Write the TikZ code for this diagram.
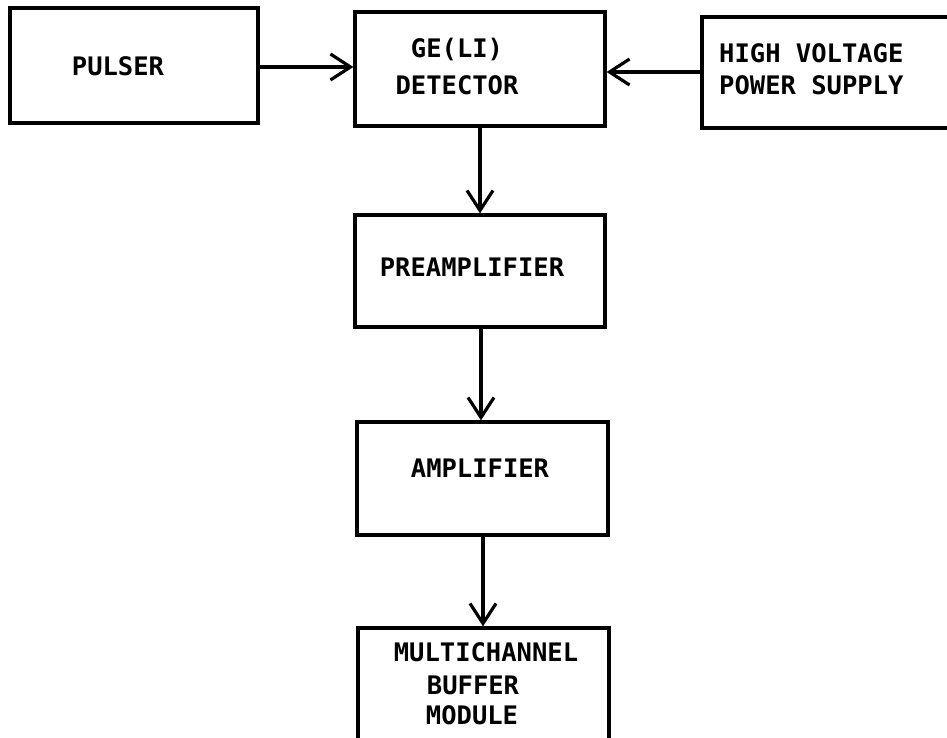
\documentclass[tikz,border=0pt]{standalone}
\usepackage{fontspec}
\setmonofont{DejaVu Sans Mono}
\usetikzlibrary{arrows.meta}
\begin{document}
\begin{tikzpicture}[x=1pt,y=-1pt,
  box/.style={draw, line width=3.2pt, rectangle, inner sep=0pt},
  lbl/.style={font=\ttfamily\bfseries\fontsize{25.5}{26}\selectfont, inner sep=0pt, text height=19pt, text depth=0pt},
  conn/.style={line width=3.2pt, -{Straight Barb[length=20pt,width=26pt,line width=3.2pt]}}]
\fill[white] (0,0) rectangle (947,738);
\useasboundingbox (0,0) rectangle (947,738);
% boxes
\node[box, minimum width=248pt, minimum height=115pt] (pulser) at (134,65.5) {};
\node[box, minimum width=250pt, minimum height=114pt] (det) at (480,69) {};
\node[box, minimum width=266pt, minimum height=111pt] (hv) at (835,72.5) {};
\node[box, minimum width=250pt, minimum height=112pt] (pre) at (480,271) {};
\node[box, minimum width=251pt, minimum height=113pt] (amp) at (482.5,478.5) {};
\node[box, minimum width=251pt, minimum height=132pt] (mcb) at (483.5,694) {};
% labels
\node[lbl] (tpulser) at (118,66) {PULSER};
\node[lbl] (tdet1) at (457,48) {GE(LI)};
\node[lbl] (tdet2) at (457,85) {DETECTOR};
\node[lbl, anchor=west] (thv1) at (719,53) {HIGH VOLTAGE};
\node[lbl, anchor=west] (thv2) at (719,85) {POWER SUPPLY};
\node[lbl] (tpre) at (472,267) {PREAMPLIFIER};
\node[lbl] (tamp) at (480,468) {AMPLIFIER};
\node[lbl] (tmcb1) at (486,652) {MULTICHANNEL};
\node[lbl] (tmcb2) at (473,685) {BUFFER};
\node[lbl] (tmcb3) at (472,715) {MODULE};
% connectors
\coordinate (pin) at (det.west |- 0,67);
\draw[conn] (pulser.east |- pin) -- (pin);
\coordinate (hin) at (det.east |- 0,72);
\draw[conn] (hv.west |- hin) -- (hin);
\draw[conn] (det.south) -- (pre.north);
\draw[conn] (pre.south -| 481,0) -- (amp.north -| 481,0);
\draw[conn] (amp.south -| 483,0) -- (mcb.north -| 483,0);
\end{tikzpicture}
\end{document}
